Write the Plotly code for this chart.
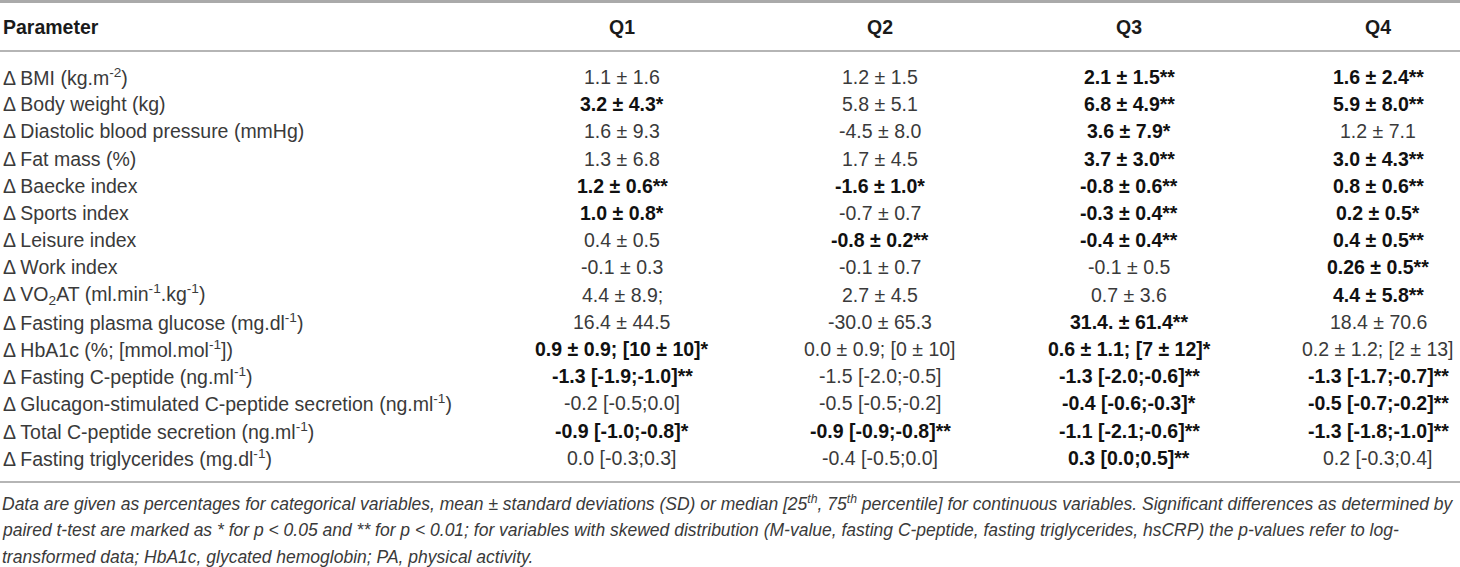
import plotly.graph_objects as go

# table content
parameters = [
    "Δ BMI (kg.m<sup>-2</sup>)",
    "Δ Body weight (kg)",
    "Δ Diastolic blood pressure (mmHg)",
    "Δ Fat mass (%)",
    "Δ Baecke index",
    "Δ Sports index",
    "Δ Leisure index",
    "Δ Work index",
    "Δ VO<sub>2</sub>AT (ml.min<sup>-1</sup>.kg<sup>-1</sup>)",
    "Δ Fasting plasma glucose (mg.dl<sup>-1</sup>)",
    "Δ HbA1c (%; [mmol.mol<sup>-1</sup>])",
    "Δ Fasting C-peptide (ng.ml<sup>-1</sup>)",
    "Δ Glucagon-stimulated C-peptide secretion (ng.ml<sup>-1</sup>)",
    "Δ Total C-peptide secretion (ng.ml<sup>-1</sup>)",
    "Δ Fasting triglycerides (mg.dl<sup>-1</sup>)",
]
q1 = ["1.1 ± 1.6", "3.2 ± 4.3*", "1.6 ± 9.3", "1.3 ± 6.8", "1.2 ± 0.6**",
      "1.0 ± 0.8*", "0.4 ± 0.5", "-0.1 ± 0.3", "4.4 ± 8.9;", "16.4 ± 44.5",
      "0.9 ± 0.9; [10 ± 10]*", "-1.3 [-1.9;-1.0]**", "-0.2 [-0.5;0.0]",
      "-0.9 [-1.0;-0.8]*", "0.0 [-0.3;0.3]"]
q2 = ["1.2 ± 1.5", "5.8 ± 5.1", "-4.5 ± 8.0", "1.7 ± 4.5", "-1.6 ± 1.0*",
      "-0.7 ± 0.7", "-0.8 ± 0.2**", "-0.1 ± 0.7", "2.7 ± 4.5", "-30.0 ± 65.3",
      "0.0 ± 0.9; [0 ± 10]", "-1.5 [-2.0;-0.5]", "-0.5 [-0.5;-0.2]",
      "-0.9 [-0.9;-0.8]**", "-0.4 [-0.5;0.0]"]
q3 = ["2.1 ± 1.5**", "6.8 ± 4.9**", "3.6 ± 7.9*", "3.7 ± 3.0**", "-0.8 ± 0.6**",
      "-0.3 ± 0.4**", "-0.4 ± 0.4**", "-0.1 ± 0.5", "0.7 ± 3.6", "31.4. ± 61.4**",
      "0.6 ± 1.1; [7 ± 12]*", "-1.3 [-2.0;-0.6]**", "-0.4 [-0.6;-0.3]*",
      "-1.1 [-2.1;-0.6]**", "0.3 [0.0;0.5]**"]
q4 = ["1.6 ± 2.4**", "5.9 ± 8.0**", "1.2 ± 7.1", "3.0 ± 4.3**", "0.8 ± 0.6**",
      "0.2 ± 0.5*", "0.4 ± 0.5**", "0.26 ± 0.5**", "4.4 ± 5.8**", "18.4 ± 70.6",
      "0.2 ± 1.2; [2 ± 13]", "-1.3 [-1.7;-0.7]**", "-0.5 [-0.7;-0.2]**",
      "-1.3 [-1.8;-1.0]**", "0.2 [-0.3;0.4]"]
headers = ["Parameter", "Q1", "Q2", "Q3", "Q4"]

footnote = [
    "Data are given as percentages for categorical variables, mean ± standard deviations (SD) or median [25<sup>th</sup>, 75<sup>th</sup> percentile] for continuous variables. Significant differences as determined by",
    "paired t-test are marked as * for p < 0.05 and ** for p < 0.01; for variables with skewed distribution (M-value, fasting C-peptide, fasting triglycerides, hsCRP) the p-values refer to log-",
    "transformed data; HbA1c, glycated hemoglobin; PA, physical activity.",
]

W, H = 1460, 567
col_x = [1, 622, 880, 1129, 1378]
header_y = 27
row0, row_step = 77, 27.2
FONT = "Liberation Sans"
SIZE = 19.5
LIGHT = "#3a3a3a"

fig = go.Figure()
annos = []

for j, h in enumerate(headers):
    annos.append(dict(x=col_x[j], y=header_y, text="<b>%s</b>" % h,
                      xanchor="left" if j == 0 else "center",
                      font=dict(size=SIZE, color="#1a1a1a")))

columns = [q1, q2, q3, q4]
for i, p in enumerate(parameters):
    y = row0 + i * row_step
    annos.append(dict(x=col_x[0], y=y, text=p, xanchor="left",
                      font=dict(size=SIZE, color=LIGHT)))
    for j, col in enumerate(columns):
        v = col[i]
        bold = "*" in v
        annos.append(dict(x=col_x[j + 1], y=y,
                          text="<b>%s</b>" % v if bold else v,
                          xanchor="center",
                          font=dict(size=SIZE, color="#111111" if bold else LIGHT)))

for k, line in enumerate(footnote):
    annos.append(dict(x=0, y=503 + k * 27, text="<i>%s</i>" % line, xanchor="left",
                      font=dict(size=17.5, color=LIGHT)))

for a in annos:
    a.update(xref="x", yref="y", showarrow=False, yanchor="middle")

shapes = [
    dict(type="line", x0=0, x1=W, y0=1.5, y1=1.5, line=dict(color="#aaaaaa", width=3)),
    dict(type="line", x0=0, x1=W, y0=51, y1=51, line=dict(color="#b5b5b5", width=2)),
    dict(type="line", x0=0, x1=W, y0=482, y1=482, line=dict(color="#b5b5b5", width=2)),
]
for s in shapes:
    s.update(xref="x", yref="y", layer="below")

fig.update_layout(
    width=W, height=H,
    margin=dict(l=0, r=0, t=0, b=0),
    paper_bgcolor="white", plot_bgcolor="white",
    font=dict(family=FONT),
    xaxis=dict(range=[0, W], visible=False, fixedrange=True),
    yaxis=dict(range=[H, 0], visible=False, fixedrange=True),
    annotations=annos, shapes=shapes,
    showlegend=False,
)

# drop the default page margin so the figure fills the window
fig.write_html("out.html", config={"displayModeBar": False},
               post_script="document.body.style.margin='0';")
